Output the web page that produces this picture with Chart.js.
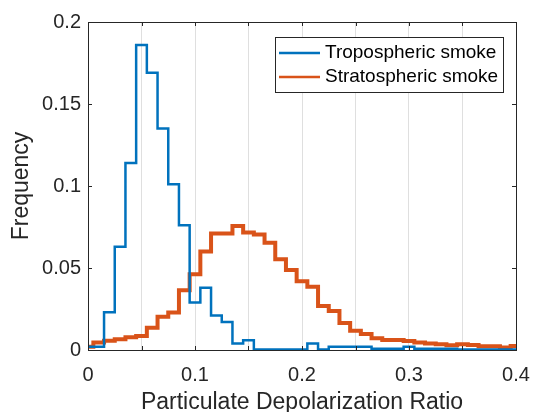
<!DOCTYPE html>
<html>
<head>
<meta charset="utf-8">
<script src="https://cdn.jsdelivr.net/npm/chart.js@4"></script>
<style>
  html, body { margin: 0; padding: 0; background: #fff; }
  canvas { display: block; }
</style>
</head>
<body>
<canvas id="hist-chart" width="533" height="412"></canvas>
<script>
// bin centres (width 0.01)
const binCenters = [0, 0.01, 0.02, 0.03, 0.04, 0.05, 0.06, 0.07, 0.08, 0.09,
    0.10, 0.11, 0.12, 0.13, 0.14, 0.15, 0.16, 0.17, 0.18, 0.19,
    0.20, 0.21, 0.22, 0.23, 0.24, 0.25, 0.26, 0.27, 0.28, 0.29,
    0.30, 0.31, 0.32, 0.33, 0.34, 0.35, 0.36, 0.37, 0.38, 0.39, 0.40];
const binWidth = 0.01;

const tropoFreq = [0.002, 0.002, 0.023, 0.063, 0.114, 0.186, 0.169, 0.135, 0.101, 0.076,
    0.029, 0.038, 0.021, 0.017, 0.004, 0.006, 0.0003, 0.0003, 0.0003, 0.0003,
    0.0003, 0.004, 0.0003, 0.002, 0.002, 0.002, 0.002, 0.0008, 0.0008, 0.0008,
    0.002, 0.0008, 0.0008, 0.0008, 0.0008, 0.0003, 0.0003, 0.0003, 0.0003, 0.0003, 0.0003];
const stratoFreq = [0.002, 0.0045, 0.0057, 0.0065, 0.0077, 0.0085, 0.0136, 0.0203, 0.0228, 0.0364,
    0.0462, 0.060, 0.0711, 0.0711, 0.0756, 0.0717, 0.0705, 0.0654, 0.0553, 0.0488,
    0.0419, 0.0386, 0.0268, 0.0238, 0.0165, 0.0118, 0.0098, 0.0071, 0.0061, 0.0061,
    0.0055, 0.0045, 0.004, 0.0035, 0.0029, 0.0035, 0.003, 0.0023, 0.0023, 0.0016, 0.0025];

const xTickLabels = ['0', '0.1', '0.2', '0.3', '0.4'];
const yTickLabels = ['0', '0.05', '0.1', '0.15', '0.2'];

const seriesNames = ['Tropospheric smoke', 'Stratospheric smoke'];
const seriesColors = ['#0072BD', '#D95319'];

const textColor = '#262626';
const fontFamily = "'Liberation Sans', Arial, sans-serif";

// stair outline: left edge of every bin, then the last right edge
function stairs(values) {
    const pts = binCenters.map((c, i) => ({ x: c - binWidth / 2, y: values[i] }));
    const last = binCenters.length - 1;
    pts.push({ x: binCenters[last] + binWidth / 2, y: values[last] });
    return pts;
}

function labelFor(list, v) {
    const hit = list.find(s => Math.abs(parseFloat(s) - v) < 1e-6);
    return hit === undefined ? '' : hit;
}

// box, inward ticks and legend (MATLAB style)
const matlabAxes = {
    id: 'matlabAxes',
    afterDraw(chart) {
        const { ctx, chartArea: a, scales } = chart;
        ctx.save();
        ctx.strokeStyle = textColor;
        ctx.lineWidth = 1;
        ctx.beginPath();
        scales.x.ticks.forEach(t => {
            const px = Math.round(scales.x.getPixelForValue(t.value)) + 0.5;
            ctx.moveTo(px, a.bottom); ctx.lineTo(px, a.bottom - 4);
            ctx.moveTo(px, a.top); ctx.lineTo(px, a.top + 4);
        });
        scales.y.ticks.forEach(t => {
            const py = Math.round(scales.y.getPixelForValue(t.value)) + 0.5;
            ctx.moveTo(a.left, py); ctx.lineTo(a.left + 4, py);
            ctx.moveTo(a.right, py); ctx.lineTo(a.right - 4, py);
        });
        ctx.stroke();
        ctx.strokeRect(Math.round(a.left) + 0.5, Math.round(a.top) + 0.5,
            Math.round(a.right - a.left), Math.round(a.bottom - a.top));

        // legend
        const lx = a.right - 241, ly = a.top + 15, lw = 228, lh = 55;
        ctx.fillStyle = '#fff';
        ctx.fillRect(lx, ly, lw, lh);
        ctx.strokeStyle = textColor;
        ctx.strokeRect(lx + 0.5, ly + 0.5, lw, lh);
        ctx.font = '19px ' + fontFamily;
        ctx.textBaseline = 'middle';
        chart.data.datasets.forEach((ds, i) => {
            const ry = ly + 16 + i * 24;
            ctx.strokeStyle = ds.borderColor;
            ctx.lineWidth = 2.5;
            ctx.beginPath();
            ctx.moveTo(lx + 4, ry); ctx.lineTo(lx + 45, ry);
            ctx.stroke();
            ctx.fillStyle = '#000';
            ctx.fillText(ds.label, lx + 50, ry);
        });
        ctx.restore();
    }
};

new Chart(document.getElementById('hist-chart'), {
    type: 'line',
    data: {
        datasets: [{
            label: seriesNames[0],
            data: stairs(tropoFreq),
            borderColor: seriesColors[0],
            borderWidth: 2.5,
            stepped: true,
            pointRadius: 0,
            fill: false
        }, {
            label: seriesNames[1],
            data: stairs(stratoFreq),
            borderColor: seriesColors[1],
            borderWidth: 4,
            stepped: true,
            pointRadius: 0,
            fill: false
        }]
    },
    options: {
        responsive: false,
        animation: false,
        layout: { padding: { top: 22, right: 17, left: 0, bottom: 0 } },
        scales: {
            x: {
                type: 'linear',
                min: 0,
                max: 0.4,
                afterFit: s => { s.height = 62; s.paddingLeft = 0; s.paddingRight = 0; },
                grid: { color: '#dfdfdf', drawTicks: false },
                border: { color: textColor },
                ticks: {
                    stepSize: 0.05,
                    padding: 13,
                    autoSkip: false,
                    maxRotation: 0,
                    color: textColor,
                    font: { family: fontFamily, size: 20 },
                    callback: v => labelFor(xTickLabels, v)
                },
                title: {
                    display: true,
                    text: 'Particulate Depolarization Ratio',
                    color: textColor,
                    font: { family: fontFamily, size: 23 },
                    padding: { top: 0, bottom: -4 }
                }
            },
            y: {
                min: 0,
                max: 0.2,
                afterFit: s => { s.width = 88; s.paddingTop = 0; s.paddingBottom = 0; },
                grid: { display: false, drawTicks: false },
                border: { color: textColor },
                ticks: {
                    stepSize: 0.05,
                    padding: 7,
                    color: textColor,
                    font: { family: fontFamily, size: 20 },
                    callback: v => labelFor(yTickLabels, v)
                },
                title: {
                    display: true,
                    text: 'Frequency',
                    color: textColor,
                    font: { family: fontFamily, size: 23 },
                    padding: { top: 8, bottom: 0 }
                }
            }
        },
        plugins: {
            legend: { display: false },
            tooltip: { enabled: false }
        }
    },
    plugins: [matlabAxes]
});
</script>
</body>
</html>
